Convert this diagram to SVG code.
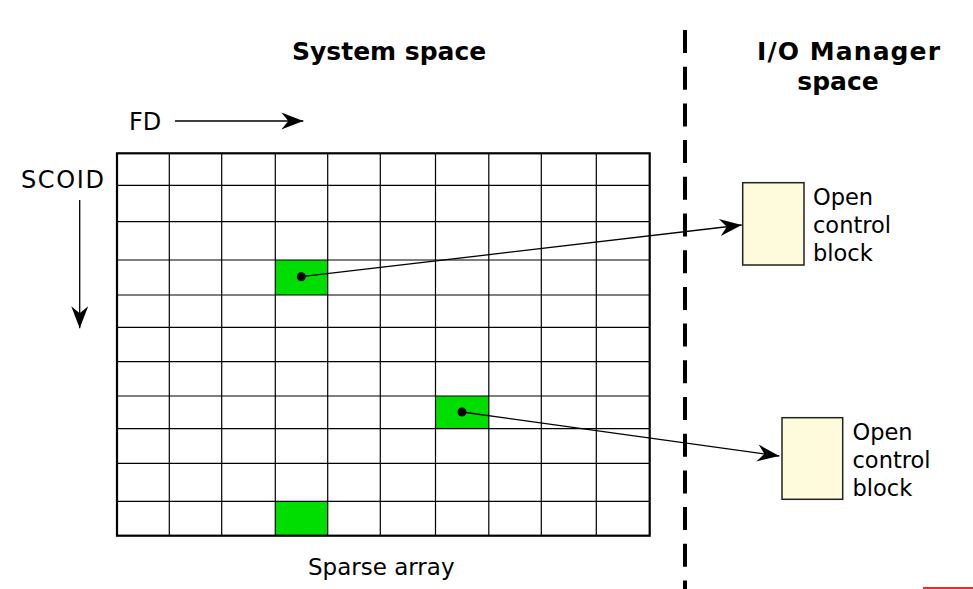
<svg xmlns="http://www.w3.org/2000/svg" width="973" height="589" viewBox="0 0 973 589">
<style>
.t{font-family:"DejaVu Sans",Verdana,sans-serif;fill:#000}
.b{font-weight:bold;font-size:25px}
.r{font-size:22.5px}
.g{stroke:#000;stroke-width:1.2;fill:none}
.cell{fill:#00dd00}
.ocb{fill:#fefbdc;stroke:#222;stroke-width:1.5}
.c{stroke:#000;stroke-width:1.3;fill:none}
</style>
<defs>
<marker id="ah" markerUnits="userSpaceOnUse" viewBox="-23 -10 24 20" refX="0" refY="0" markerWidth="24" markerHeight="20" orient="auto">
<path d="M0,0 L-22,-8.5 L-15,0 L-22,8.5 Z" fill="#000"/>
</marker>
</defs>
<rect width="973" height="589" fill="#fff"/>
<text class="t b" x="292" y="60">System space</text>
<text class="t b" x="757" y="60" textLength="183" lengthAdjust="spacing">I/O Manager</text>
<text class="t b" x="838" y="90" text-anchor="middle">space</text>
<g id="sparse-array">
<rect class="cell" x="275.3" y="260" width="52.4" height="35"/>
<rect class="cell" x="435.5" y="396" width="53.3" height="32.7"/>
<rect class="cell" x="275.3" y="501.3" width="52.4" height="34.4"/>
<path class="g" d="M169.3,153.3V535.7M221.7,153.3V535.7M275.3,153.3V535.7M327.7,153.3V535.7M380.3,153.3V535.7M435.5,153.3V535.7M488.8,153.3V535.7M541.3,153.3V535.7M596.3,153.3V535.7M117,185.3H649.7M117,221.7H649.7M117,260H649.7M117,295H649.7M117,327.3H649.7M117,361.7H649.7M117,396H649.7M117,428.7H649.7M117,463.3H649.7M117,501.3H649.7"/>
<rect x="117" y="153.3" width="532.7" height="382.4" fill="none" stroke="#000" stroke-width="2.2"/>
<text class="t" x="308" y="575" font-size="23">Sparse array</text>
</g>
<g id="fd-label">
<text class="t" x="129" y="129.5" font-size="24">FD</text>
</g>
<g id="scoid-label">
<text class="t" x="21" y="188" font-size="24" textLength="83" lengthAdjust="spacing">SCOID</text>
</g>
<line x1="685" y1="30" x2="685" y2="589" stroke="#000" stroke-width="4" stroke-dasharray="23,13.7"/>
<g id="ocb1">
<rect class="ocb" x="742.7" y="182.7" width="61.3" height="82.3"/>
<text class="t r" x="813" y="205">Open</text>
<text class="t r" x="813" y="233">control</text>
<text class="t r" x="813" y="261">block</text>
</g>
<g id="ocb2">
<rect class="ocb" x="782" y="417.7" width="60.7" height="81.6"/>
<text class="t r" x="852.5" y="440">Open</text>
<text class="t r" x="852.5" y="468">control</text>
<text class="t r" x="852.5" y="496">block</text>
</g>
<g id="connectors">
<line class="c" x1="175" y1="121" x2="303.3" y2="121" marker-end="url(#ah)"/>
<line class="c" x1="79.7" y1="200" x2="79.7" y2="328.3" marker-end="url(#ah)"/>
<circle cx="301.3" cy="276.7" r="4.5" fill="#000"/>
<line class="c" x1="301.3" y1="276.7" x2="741.7" y2="225" marker-end="url(#ah)"/>
<circle cx="462" cy="412" r="4.5" fill="#000"/>
<line class="c" x1="462" y1="412" x2="779.3" y2="456" marker-end="url(#ah)"/>
</g>
<line x1="923" y1="588" x2="973" y2="588" stroke="#e03030" stroke-width="2"/>
</svg>
